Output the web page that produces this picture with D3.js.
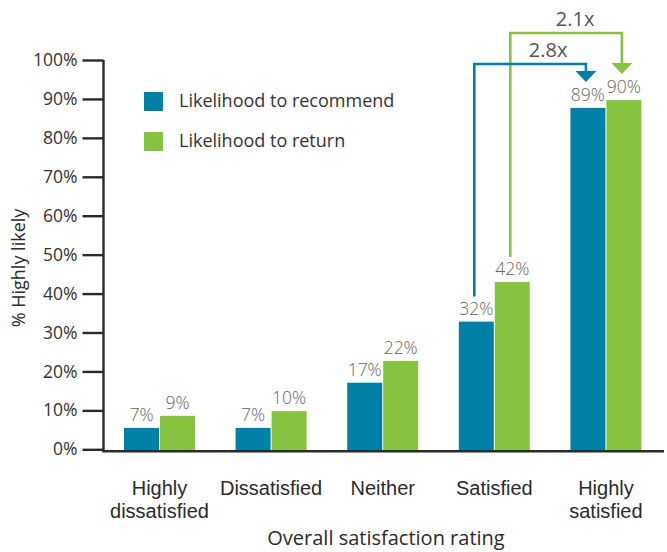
<!DOCTYPE html>
<html>
<head>
<meta charset="utf-8">
<script src="https://cdn.jsdelivr.net/npm/d3@7"></script>
<style>
  html, body { margin: 0; padding: 0; background: #fff; }
  svg { display: block; font-family: "Open Sans", Lato, sans-serif; }
</style>
</head>
<body>
<svg id="chart" width="667" height="552"></svg>
<script>
// ---- data ----
const categories = [["Highly", "dissatisfied"], ["Dissatisfied"], ["Neither"], ["Satisfied"], ["Highly", "satisfied"]];
const categoryKeys = ["Highly dissatisfied", "Dissatisfied", "Neither", "Satisfied", "Highly satisfied"];
const seriesNames = ["Likelihood to recommend", "Likelihood to return"];
const recommendValues = [5.5, 5.5, 17.1, 32.8, 87.7];
const returnValues = [8.6, 9.8, 22.7, 43.0, 89.7];
const recommendLabels = ["7%", "7%", "17%", "32%", "89%"];
const returnLabels = ["9%", "10%", "22%", "42%", "90%"];
const yTicks = [0, 10, 20, 30, 40, 50, 60, 70, 80, 90, 100];
const annotations = [
  { series: 1, from: "Satisfied", to: "Highly satisfied", text: "2.1x", level: 33, dx: 9 },
  { series: 0, from: "Satisfied", to: "Highly satisfied", text: "2.8x", level: 64, dx: 18 }
];
const colors = ["#0080a6", "#86c440"];

// ---- chart ----
const svg = d3.select("#chart");
const y = d3.scaleLinear().domain([0, 100]).range([449.3, 60]);
const x = d3.scaleBand().domain(categoryKeys).range([124, 641.4]).paddingInner(0.364).paddingOuter(0);
const xs = d3.scaleBand().domain([0, 1]).range([0, x.bandwidth()]).paddingInner(0.028);

const seriesValues = [recommendValues, returnValues];
const seriesLabels = [recommendLabels, returnLabels];

// bars
seriesValues.forEach((vals, s) => {
  svg.append("g").selectAll("rect").data(vals).join("rect")
    .attr("x", (d, i) => x(categoryKeys[i]) + xs(s))
    .attr("width", xs.bandwidth())
    .attr("y", d => y(d))
    .attr("height", d => y(0) + 0.7 - y(d))
    .attr("fill", colors[s]);
  svg.append("g").selectAll("text").data(vals).join("text")
    .attr("x", (d, i) => x(categoryKeys[i]) + xs(s) + xs.bandwidth() / 2)
    .attr("y", d => y(d) - 7)
    .attr("text-anchor", "middle")
    .attr("font-size", 17.5)
    .attr("font-weight", 300)
    .attr("fill", "#666")
    .text((d, i) => seriesLabels[s][i]);
});

// y axis
const yAxis = d3.axisLeft(y).tickValues(yTicks).tickFormat(d => d + "%").tickSize(21).tickSizeOuter(0).tickPadding(5);
const gy = svg.append("g").attr("transform", "translate(103.5,0)").call(yAxis);
gy.select(".domain").attr("stroke", "#2b2b2b").attr("stroke-width", 2.4)
  .attr("d", `M0,${y(100)}V${y(0) + 2.4}`);
gy.selectAll(".tick line").attr("stroke", "#2b2b2b").attr("stroke-width", 2.4);
gy.selectAll(".tick text").attr("font-size", 17.5).attr("fill", "#333").attr("font-family", "'Open Sans', sans-serif");

// x axis
const gx = svg.append("g").attr("transform", `translate(0,${y(0) + 2})`)
  .call(d3.axisBottom(x).tickSize(0).tickFormat(""));
gx.select(".domain").attr("stroke", "#2b2b2b").attr("stroke-width", 2.6)
  .attr("d", `M102.3,0H664`);
gx.selectAll(".tick").each(function (d, i) {
  const t = d3.select(this).append("text")
    .attr("text-anchor", "middle")
    .attr("font-size", 20)
    .attr("fill", "#2b2b2b");
  categories[i].forEach((line, k) => {
    t.append("tspan").attr("x", 0).attr("y", 44 + k * 23).text(line);
  });
});

// axis titles
svg.append("text")
  .attr("x", (104 + 664) / 2 + 2).attr("y", 545)
  .attr("text-anchor", "middle").attr("font-size", 20).attr("fill", "#2b2b2b")
  .text("Overall satisfaction rating");
svg.append("text")
  .attr("transform", "translate(25,268) rotate(-90)")
  .attr("text-anchor", "middle").attr("font-size", 18).attr("fill", "#2b2b2b")
  .text("% Highly likely");

// legend
const legend = svg.append("g");
seriesNames.forEach((name, s) => {
  legend.append("rect").attr("x", 144).attr("y", 92 + s * 40).attr("width", 19).attr("height", 19).attr("fill", colors[s]);
  legend.append("text").attr("x", 179).attr("y", 107 + s * 40)
    .attr("font-size", 18).attr("fill", "#333").text(name);
});

// annotations (brackets with arrows)
annotations.forEach(a => {
  const s = a.series;
  const fromIdx = categoryKeys.indexOf(a.from), toIdx = categoryKeys.indexOf(a.to);
  const x0 = x(a.from) + xs(s) + xs.bandwidth() / 2 - 2;
  const x1 = x(a.to) + xs(s) + xs.bandwidth() / 2 - 2;
  const yStart = y(seriesValues[s][fromIdx]) - 25;
  const yEnd = y(seriesValues[s][toIdx]) - 26;
  const triH = 11, triW = 21;
  svg.append("path")
    .attr("d", `M${x0},${yStart}V${a.level}H${x1}V${yEnd - triH + 1}`)
    .attr("fill", "none").attr("stroke", colors[s]).attr("stroke-width", 2.6);
  svg.append("path")
    .attr("d", `M${x1 - triW / 2},${yEnd - triH}H${x1 + triW / 2}L${x1},${yEnd}Z`)
    .attr("fill", colors[s]);
  svg.append("text")
    .attr("x", (x0 + x1) / 2 + a.dx).attr("y", a.level - 7)
    .attr("text-anchor", "middle").attr("font-size", 20).attr("fill", "#555")
    .text(a.text);
});
</script>
</body>
</html>
